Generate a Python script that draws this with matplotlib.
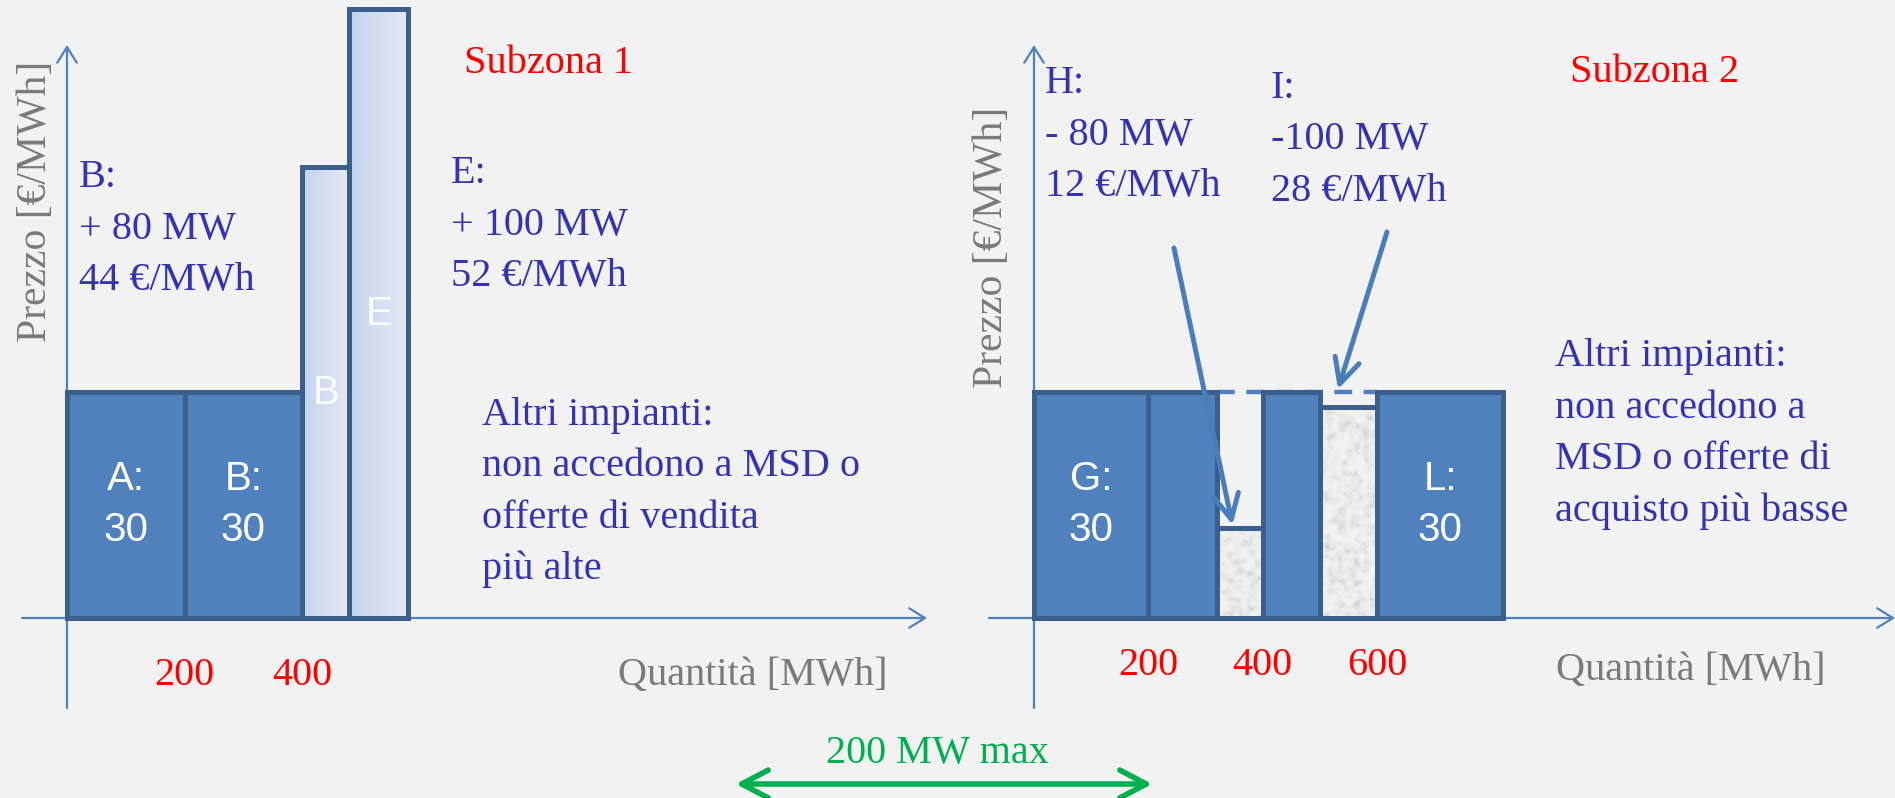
import numpy as np
import matplotlib.pyplot as plt
from matplotlib.colors import LinearSegmentedColormap
from matplotlib.patches import FancyArrowPatch
from matplotlib.transforms import blended_transform_factory, offset_copy

# Subzona 1: offerte accettate (base) e offerte a salire su MSD
sub1_names = ["A", "B", "B", "E"]
sub1_start = [0, 200, 400, 480]        # MWh
sub1_qty = [200, 200, 80, 100]         # MWh
sub1_price = [30, 30, 44, 52]          # €/MWh
sub1_kind = ["base", "base", "up", "up"]
sub1_ticks = [200, 400]

# Subzona 2: offerte accettate e offerte a scendere
sub2_names = ["G", "", "H", "", "I", "L"]
sub2_start = [0, 200, 320, 400, 500, 600]
sub2_qty = [200, 120, 80, 100, 100, 220]
sub2_price = [30, 30, 12, 30, 28, 30]
sub2_kind = ["base", "base", "down", "base", "down", "base"]
sub2_ticks = [200, 400, 600]
sub2_old_price = 30      # prezzo di partenza di H e I

link_max = 200           # MW trasferibili fra le subzone

# stile
W, H = 1895, 798
BG = "#F2F2F2"
FILL = "#4F81BD"
EDGE = "#3A5F8C"
AXIS = "#4F81BD"
BLUE_TXT = "#3333B3"
GREY_TXT = "#7A7A7A"
GREEN = "#00B050"
SERIF = ["Liberation Serif", "DejaVu Serif"]
SANS = ["Liberation Sans", "DejaVu Sans"]
LW = 3.6
FS = 29

fig = plt.figure(figsize=(W / 100, H / 100), dpi=100, facecolor=BG)


def px(x, y):
    return x / W, 1 - y / H


def write(x, y0, rows, color=BLUE_TXT, step=51.5, size=FS):
    for i, row in enumerate(rows):
        fig.text(*px(x, y0 + i * step), row, ha="left", va="baseline",
                 fontfamily=SERIF, fontsize=size, color=color)


light_cmap = LinearSegmentedColormap.from_list("light", ["#C4D3EE", "#E4EAF5"])
rng = np.random.default_rng(3)


def grain(nx, ny):
    # texture granulosa per le offerte ridotte
    n = rng.random((ny, nx))
    n = (n + np.roll(n, 1, 0) + np.roll(n, -1, 0)
         + np.roll(n, 1, 1) + np.roll(n, -1, 1)) / 5
    n = (n - n.min()) / (n.max() - n.min())
    g = 0.955 - 0.2 * n ** 3
    return np.dstack([g, g, g])


def panel(x0, x1, mwh_px, ytop, scale=None):
    ax = fig.add_axes([x0 / W, 1 - 618 / H, (x1 - x0) / W, 618 / H])
    ax.patch.set_visible(False)
    for s in ax.spines.values():
        s.set_visible(False)
    if scale is not None:
        ax.set_yscale("function", functions=scale)
    ax.set_xlim(0, (x1 - x0) / mwh_px)
    ax.set_ylim(0, ytop)
    ax.set_yticks([])
    # assi con freccia aperta
    arrow = dict(arrowstyle="->,head_length=0.45,head_width=0.28", color=AXIS,
                 lw=1.6, mutation_scale=25, shrinkA=0, shrinkB=0)
    ax.annotate("", xy=(1, 0), xytext=(-45 / (x1 - x0), 0), xycoords="axes fraction",
                arrowprops=arrow, annotation_clip=False, zorder=1)
    ax.annotate("", xy=(0, 573 / 618), xytext=(0, -90 / 618), xycoords="axes fraction",
                arrowprops=arrow, annotation_clip=False, zorder=1)
    return ax


def draw_bars(ax, names, start, qty, price, kind):
    mix = blended_transform_factory(ax.transData, ax.transAxes)
    for name, x0, w, p, k in zip(names, start, qty, price, kind):
        (xa, ya), (xb, yb) = ax.transData.transform([(x0, 0), (x0 + w, p)])
        top = ax.transAxes.inverted().transform((xb, yb))[1]
        xc = x0 + w / 2
        if k == "base":
            ax.bar(x0, p, w, align="edge", color=FILL, edgecolor=EDGE, lw=LW,
                   zorder=3, clip_on=False)
            if name:
                for txt, dy in ((f"{name}:", 25.5), (f"{p}", -25.5)):
                    ax.text(xc, top / 2, txt, ha="center", va="center", color="white",
                            fontfamily=SANS, fontsize=FS, zorder=5,
                            transform=offset_copy(mix, fig=fig, y=dy, units="dots"))
            continue
        base = ax.bar(x0, p, w, align="edge", color="#DDE5F2", edgecolor="none",
                      zorder=2, clip_on=False)[0]
        if k == "up":
            img = ax.imshow(np.linspace(0, 1, 64)[None, :], cmap=light_cmap,
                            extent=(x0, x0 + w, 0, 1), transform=mix, aspect="auto",
                            interpolation="bilinear", zorder=2.5)
        else:
            # grana di circa 2.5 px, su tutta l'altezza del pannello
            nx = max(int((xb - xa) / 2.5), 2)
            ny = int(618 / 2.5)
            img = ax.imshow(grain(nx, ny), extent=(x0, x0 + w, 0, 1), transform=mix,
                            aspect="auto", interpolation="bilinear", zorder=2.5)
        img.set_clip_path(base)
        ax.bar(x0, p, w, align="edge", fill=False, edgecolor=EDGE, lw=LW,
               zorder=3, clip_on=False)
        if k == "up":
            ax.text(xc, top / 2, name, ha="center", va="center", color="white",
                    alpha=0.9, fontfamily=SANS, fontsize=FS, zorder=5, transform=mix)


def ticks(ax, values, pad):
    ax.set_xticks(values, labels=[str(v) for v in values])
    ax.tick_params(axis="x", length=0, pad=pad, labelsize=FS, labelcolor="red")
    for lab in ax.get_xticklabels():
        lab.set_fontfamily(SERIF)


# pannello sinistro: scala dei prezzi schematica (potenza)
p_exp = 1.8
power = (lambda v: np.sign(v) * np.abs(v) ** p_exp,
         lambda u: np.sign(u) * np.abs(u) ** (1 / p_exp))
ax1 = panel(67, 927, 0.588, 52.44, scale=power)
draw_bars(ax1, sub1_names, sub1_start, sub1_qty, sub1_price, sub1_kind)
ticks(ax1, sub1_ticks, 28)

# pannello destro
ax2 = panel(1034, 1895, 0.572, 82.0)
draw_bars(ax2, sub2_names, sub2_start, sub2_qty, sub2_price, sub2_kind)
ticks(ax2, sub2_ticks, 21)
ax2.hlines(sub2_old_price, sub2_start[2], sub2_start[4] + sub2_qty[4], colors=FILL,
           linestyles=(0, (4, 2.6)), lw=3.2, zorder=1)

# frecce verso le offerte a scendere
down_arrow = dict(arrowstyle="->,head_length=0.6,head_width=0.3", color="#4A7EBB",
                  lw=3.6, mutation_scale=30, shrinkA=0, shrinkB=2)
ax2.annotate("", xy=(sub2_start[2] + 0.35 * sub2_qty[2], sub2_price[2]),
             xytext=(1174, H - 248), textcoords="figure pixels",
             arrowprops=down_arrow, zorder=6)
ax2.annotate("", xy=(sub2_start[4] + 0.3 * sub2_qty[4], sub2_old_price),
             xytext=(1387, H - 232), textcoords="figure pixels",
             arrowprops=down_arrow, zorder=6)

# testi delle offerte
for i, (x, y) in zip([2, 3], [(79, 187), (451, 183)]):
    write(x, y, [f"{sub1_names[i]}:", f"+ {sub1_qty[i]} MW", f"{sub1_price[i]} €/MWh"])
for i, (x, y) in zip([2, 4], [(1045, 93), (1271, 98)]):
    write(x, y, [f"{sub2_names[i]}:", f"-{sub2_qty[i]:>3} MW", f"{sub2_price[i]} €/MWh"])

write(464, 73, ["Subzona 1"], color="red")
write(1570, 82, ["Subzona 2"], color="red")
write(482, 425, ["Altri impianti:", "non accedono a MSD o",
                 "offerte di vendita", "più alte"])
write(1555, 366, ["Altri impianti:", "non accedono a",
                  "MSD o offerte di", "acquisto più basse"])
write(618, 685, ["Quantità [MWh]"], color=GREY_TXT)
write(1556, 680, ["Quantità [MWh]"], color=GREY_TXT)
for x, y in [(36, 201), (992, 247)]:
    fig.text(*px(x, y), "Prezzo [€/MWh]", rotation=90, ha="center", va="center",
             fontfamily=SERIF, fontsize=30, color=GREY_TXT)

# collegamento fra le subzone
fig.text(*px(937, 763), f"{link_max} MW max", ha="center", va="baseline",
         fontfamily=SERIF, fontsize=FS, color=GREEN)
fig.add_artist(FancyArrowPatch(
    px(733, 784), px(1155, 784), transform=fig.transFigure,
    arrowstyle="<->,head_length=0.95,head_width=0.5", mutation_scale=20,
    color=GREEN, lw=4.0, capstyle="round", joinstyle="round"))

fig.savefig("out.png", dpi=100, facecolor=BG)
